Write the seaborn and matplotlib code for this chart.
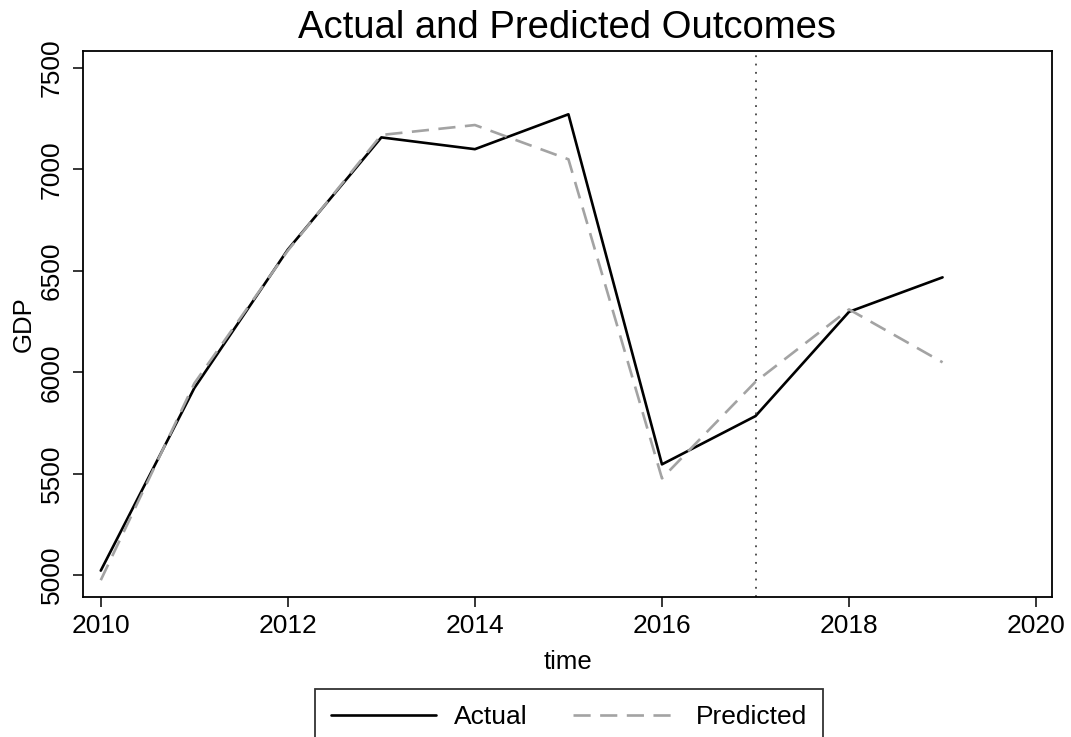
import matplotlib
matplotlib.use("Agg")
import matplotlib.pyplot as plt
from matplotlib.lines import Line2D
import seaborn as sns
import pandas as pd

years = [2010, 2011, 2012, 2013, 2014, 2015, 2016, 2017, 2018, 2019]
actual = [5022, 5922, 6605, 7158, 7100, 7272, 5546, 5784, 6298, 6468]
predicted = [4975, 5945, 6600, 7170, 7219, 7050, 5477, 5953, 6310, 6049]
series_names = ["Actual", "Predicted"]
cutoff_year = 2017

df = pd.concat([
    pd.DataFrame({"time": years, "GDP": actual, "series": series_names[0]}),
    pd.DataFrame({"time": years, "GDP": predicted, "series": series_names[1]}),
])

sns.set_style("white")
plt.rcParams["font.family"] = ["Liberation Sans", "DejaVu Sans"]
plt.rcParams["text.color"] = "black"
plt.rcParams["axes.labelcolor"] = "black"
plt.rcParams["xtick.color"] = "black"
plt.rcParams["ytick.color"] = "black"

fig = plt.figure(figsize=(10.71, 7.37), dpi=100)
ax = fig.add_axes([83 / 1071, 1 - 597 / 737, (1052 - 83) / 1071, (597 - 51) / 737])

gray = "#a3a3a3"
dash_pat = (6.5, 3.6)
palette = {"Actual": "black", "Predicted": gray}
dashes = {"Actual": "", "Predicted": dash_pat}
sns.lineplot(data=df, x="time", y="GDP", hue="series", style="series",
             palette=palette, dashes=dashes, linewidth=1.9, ax=ax, legend=False)

ax.axvline(cutoff_year, color="#444444", linewidth=1.3, linestyle=(0, (1, 3.6)))

ax.set_xlim(2009.81, 2020.17)
ax.set_ylim(4892, 7584)
ax.set_xticks([2010, 2012, 2014, 2016, 2018, 2020])
ax.set_yticks([5000, 5500, 6000, 6500, 7000, 7500])
for lbl in ax.get_yticklabels():
    lbl.set_rotation(90)
    lbl.set_va("center")

ax.tick_params(axis="both", direction="out", length=7, width=1.1, color="black",
               labelsize=19, bottom=True, left=True)
ax.tick_params(axis="y", pad=7)
ax.tick_params(axis="x", pad=5)
for s in ax.spines.values():
    s.set_visible(True)
    s.set_color("black")
    s.set_linewidth(1.3)

ax.set_xlabel("time", fontsize=18.5, labelpad=9)
ax.set_ylabel("GDP", fontsize=18.5, labelpad=3)
ax.set_title("Actual and Predicted Outcomes", fontsize=27.5, pad=9)

handles = [
    Line2D([], [], color="black", linewidth=1.9),
    Line2D([], [], color=gray, linewidth=1.9, linestyle=(0, dash_pat)),
]
leg = fig.legend(handles, series_names, loc="upper center",
                 bbox_to_anchor=(569 / 1071, 1 - 689 / 737), ncol=2,
                 fontsize=19, frameon=True, fancybox=False,
                 handlelength=4.0, handletextpad=0.65, columnspacing=1.75,
                 borderpad=0.6, borderaxespad=0)
leg.get_frame().set_edgecolor("black")
leg.get_frame().set_linewidth(1.3)

fig.savefig("out.png", dpi=100)
